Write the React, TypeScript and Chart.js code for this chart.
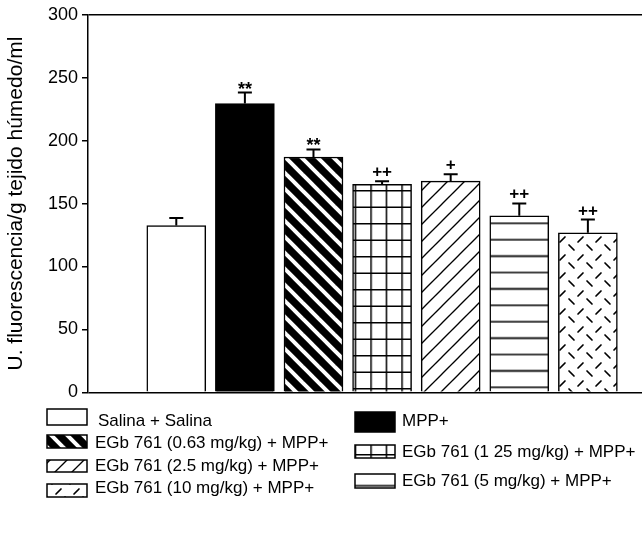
import React, { useEffect, useRef } from "react";
import { Chart, registerables } from "chart.js";

Chart.register(...registerables);

// ---- data ----
const groups = [
  "Salina + Salina",
  "MPP+",
  "EGb 761 (0.63 mg/kg) + MPP+",
  "EGb 761 (1 25 mg/kg) + MPP+",
  "EGb 761 (2.5 mg/kg) + MPP+",
  "EGb 761 (5 mg/kg) + MPP+",
  "EGb 761 (10 mg/kg) + MPP+",
];
const means = [132.5, 229.5, 187, 165.2, 167.8, 140.3, 126.8];
const sems = [6, 8.7, 6, 2.6, 5.5, 9.8, 10.5];
const marks = ["", "**", "**", "++", "+", "++", "++"];
const yTicks = [0, 50, 100, 150, 200, 250, 300];
const yTitle = "U. fluorescencia/g tejido húmedo/ml";

// ---- layout / style (not data) ----
const FONT = "'Liberation Sans', Arial, sans-serif";
const legendLayout = [
  { sx: 47, sy: 409, sw: 40, sh: 16, tx: 98, ty: 421 },
  { sx: 355, sy: 412, sw: 40, sh: 20, tx: 402, ty: 421 },
  { sx: 47, sy: 435, sw: 40, sh: 13, tx: 95, ty: 443 },
  { sx: 355, sy: 445, sw: 40, sh: 13, tx: 402, ty: 452 },
  { sx: 47, sy: 460, sw: 40, sh: 12, tx: 95, ty: 466 },
  { sx: 355, sy: 474, sw: 40, sh: 14, tx: 402, ty: 481 },
  { sx: 47, sy: 484, sw: 40, sh: 13, tx: 95, ty: 488 },
];

function tile(w: number, h: number, draw: (c: CanvasRenderingContext2D) => void) {
  const cv = document.createElement("canvas");
  cv.width = w;
  cv.height = h;
  const c = cv.getContext("2d")!;
  draw(c);
  return cv;
}

function makeFills(ctx: CanvasRenderingContext2D): (string | CanvasPattern)[] {
  const bstripe = tile(16, 16, (c) => {
    c.fillStyle = "#000";
    c.fillRect(0, 0, 16, 16);
    c.strokeStyle = "#fff";
    c.lineWidth = 4;
    for (const o of [-16, 0, 16]) {
      c.beginPath();
      c.moveTo(o - 2, -2);
      c.lineTo(o + 18, 18);
      c.stroke();
    }
  });
  const grid = tile(31, 33, (c) => {
    c.fillStyle = "#fff";
    c.fillRect(0, 0, 31, 33);
    c.strokeStyle = "#000";
    c.lineWidth = 1.5;
    c.beginPath();
    for (const x of [0.75, 16.25]) {
      c.moveTo(x, 0);
      c.lineTo(x, 33);
    }
    for (const y of [0.75, 17.25]) {
      c.moveTo(0, y);
      c.lineTo(31, y);
    }
    c.stroke();
  });
  const fstripe = tile(17, 17, (c) => {
    c.fillStyle = "#fff";
    c.fillRect(0, 0, 17, 17);
    c.strokeStyle = "#000";
    c.lineWidth = 1.3;
    for (const o of [-17, 0, 17]) {
      c.beginPath();
      c.moveTo(o - 2, 19);
      c.lineTo(o + 19, -2);
      c.stroke();
    }
  });
  const hlines = tile(8, 82, (c) => {
    c.fillStyle = "#fff";
    c.fillRect(0, 0, 8, 82);
    c.strokeStyle = "#000";
    c.lineWidth = 1.6;
    c.beginPath();
    for (let k = 0; k < 5; k++) {
      const y = 0.8 + 16.4 * k;
      c.moveTo(0, y);
      c.lineTo(8, y);
    }
    c.stroke();
  });
  const dash = tile(18, 18, (c) => {
    c.fillStyle = "#fff";
    c.fillRect(0, 0, 18, 18);
    c.strokeStyle = "#000";
    c.lineWidth = 1.7;
    c.lineCap = "round";
    c.beginPath();
    c.moveTo(2, 8);
    c.lineTo(7, 3);
    c.moveTo(11, 11);
    c.lineTo(16, 16);
    c.stroke();
  });
  const p1 = ctx.createPattern(bstripe, "repeat")!;
  const p2 = ctx.createPattern(grid, "repeat")!;
  p2.setTransform(new DOMMatrix().translate(370.25, 190));
  const p3 = ctx.createPattern(fstripe, "repeat")!;
  const p4 = ctx.createPattern(hlines, "repeat")!;
  p4.setTransform(new DOMMatrix().translate(0, 222.5));
  const p5 = ctx.createPattern(dash, "repeat")!;
  return ["#ffffff", "#000000", p1, p2, p3, p4, p5];
}

export default function App() {
  const ref = useRef<HTMLCanvasElement | null>(null);

  useEffect(() => {
    const canvas = ref.current!;
    const ctx0 = canvas.getContext("2d")!;
    const fills = makeFills(ctx0);

    const errorPlugin = {
      id: "errorBars",
      afterDatasetsDraw(chart: any) {
        const { ctx, scales } = chart;
        const x = scales.x;
        const y = scales.y;
        ctx.save();
        ctx.strokeStyle = "#000";
        ctx.fillStyle = "#000";
        ctx.lineWidth = 2;
        means.forEach((m, i) => {
          const px = x.getPixelForValue(i + 1);
          const top = y.getPixelForValue(m);
          const e = y.getPixelForValue(m + sems[i]);
          ctx.beginPath();
          ctx.moveTo(px, top);
          ctx.lineTo(px, e);
          ctx.moveTo(px - 7, e);
          ctx.lineTo(px + 7, e);
          ctx.stroke();
          const mk = marks[i];
          if (mk) {
            ctx.textAlign = "center";
            ctx.textBaseline = "alphabetic";
            if (mk.includes("*")) {
              ctx.font = `bold 18px ${FONT}`;
              ctx.fillText(mk, px, e + 2);
            } else {
              ctx.font = `bold 17px ${FONT}`;
              ctx.fillText(mk, px, e - 4);
            }
          }
        });
        ctx.restore();
      },
    };

    const legendPlugin = {
      id: "customLegend",
      afterDraw(chart: any) {
        const { ctx } = chart;
        ctx.save();
        groups.forEach((g, i) => {
          const L = legendLayout[i];
          ctx.fillStyle = fills[i];
          ctx.fillRect(L.sx, L.sy, L.sw, L.sh);
          ctx.strokeStyle = "#000";
          ctx.lineWidth = 1.5;
          ctx.strokeRect(L.sx, L.sy, L.sw, L.sh);
          ctx.fillStyle = "#000";
          ctx.font = `17px ${FONT}`;
          ctx.textAlign = "left";
          ctx.textBaseline = "middle";
          ctx.fillText(g, L.tx, L.ty);
        });
        ctx.restore();
      },
    };

    const chart = new Chart(canvas, {
      type: "bar",
      data: {
        datasets: [
          {
            label: "values",
            data: means.map((v, i) => ({ x: i + 1, y: v })),
            backgroundColor: fills as any,
            borderColor: "#000",
            borderWidth: 1.5,
            barThickness: 59,
          },
        ],
      },
      options: {
        animation: false,
        responsive: false,
        maintainAspectRatio: false,
        layout: { padding: { top: 14, right: 0, bottom: 143.7, left: 0 } },
        plugins: {
          legend: { display: false },
          tooltip: { enabled: false },
        },
        scales: {
          x: {
            type: "linear",
            min: -0.287,
            max: 7.789,
            offset: false,
            display: false,
          },
          y: {
            min: 0,
            max: 300,
            afterFit: (s: any) => {
              s.width = 88;
            },
            border: { display: true, color: "#000", width: 1.5 },
            grid: {
              color: (c: any) =>
                c.tick && (c.tick.value === 0 || c.tick.value === 300) ? "#000" : "rgba(0,0,0,0)",
              lineWidth: 1.5,
              tickColor: "#000",
              tickLength: 6,
              tickWidth: 1.5,
              drawTicks: true,
            },
            ticks: {
              stepSize: 50,
              color: "#000",
              padding: 4,
              font: { family: FONT, size: 18 },
              callback: (v: any) => (yTicks.includes(Number(v)) ? String(v) : ""),
            },
            title: {
              display: true,
              text: yTitle,
              color: "#000",
              font: { family: FONT, size: 21 },
            },
          },
        },
      },
      plugins: [errorPlugin, legendPlugin],
    });

    return () => chart.destroy();
  }, []);

  return (
    <div style={{ position: "absolute", left: 0, top: 0, width: 642, height: 536, background: "#fff" }}>
      <canvas ref={ref} width={642} height={536} style={{ width: 642, height: 536, display: "block" }} />
    </div>
  );
}
